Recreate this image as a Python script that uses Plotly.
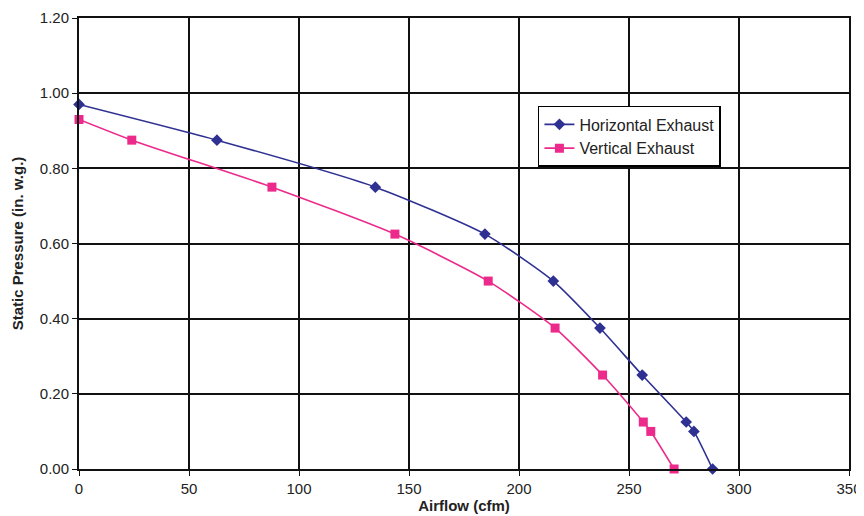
import plotly.graph_objects as go

horiz_x = [0, 62.7, 134.7, 184.5, 215.6, 236.8, 256, 276, 279.5, 288]
horiz_y = [0.97, 0.875, 0.75, 0.625, 0.5, 0.375, 0.25, 0.125, 0.1, 0.0]
vert_x = [0, 24, 87.7, 143.6, 186, 216.4, 238, 256.5, 259.9, 270.5]
vert_y = [0.93, 0.875, 0.75, 0.625, 0.5, 0.375, 0.25, 0.125, 0.1, 0.0]

fig = go.Figure()
fig.add_trace(go.Scatter(x=horiz_x, y=horiz_y, mode="lines+markers", name="Horizontal Exhaust",
                         cliponaxis=False,
                         line=dict(color="#2E3192", width=1.6, shape="spline", smoothing=0.6),
                         marker=dict(symbol="diamond", size=9, color="#2E3192")))
fig.add_trace(go.Scatter(x=vert_x, y=vert_y, mode="lines+markers", name="Vertical Exhaust",
                         cliponaxis=False,
                         line=dict(color="#EC2A8C", width=1.6, shape="spline", smoothing=0.6),
                         marker=dict(symbol="square", size=9, color="#EC2A8C")))

fig.update_layout(
    width=856, height=508,
    margin=dict(l=71, r=15, t=10, b=47),
    paper_bgcolor="white", plot_bgcolor="white",
    font=dict(family="Liberation Sans, Arial, sans-serif", size=15, color="#222"),
    legend=dict(x=0.596, y=0.805, xanchor="left", yanchor="top",
                bordercolor="black", borderwidth=1.5, bgcolor="white",
                font=dict(size=16), tracegroupgap=0, itemwidth=30),
    xaxis=dict(range=[0, 350], dtick=50, showgrid=True, gridcolor="#111", gridwidth=2,
               ticks="outside", ticklen=5, tickcolor="#111", showline=True, linecolor="#111",
               linewidth=2, mirror=True, zeroline=False, automargin=False,
               tickfont=dict(size=15),
               title=dict(text="<b>Airflow (cfm)</b>", standoff=2, font=dict(size=15))),
    yaxis=dict(range=[0, 1.2], dtick=0.2, tickformat=".2f", showgrid=True, gridcolor="#111",
               gridwidth=2, ticks="outside", ticklen=5, tickcolor="#111", showline=True,
               linecolor="#111", linewidth=2, mirror=True, zeroline=False, automargin=False,
               tickfont=dict(size=15),
               title=dict(text="<b>Static Pressure (in. w.g.)</b>", standoff=13, font=dict(size=15))),
)

fig.write_html("out.html")
